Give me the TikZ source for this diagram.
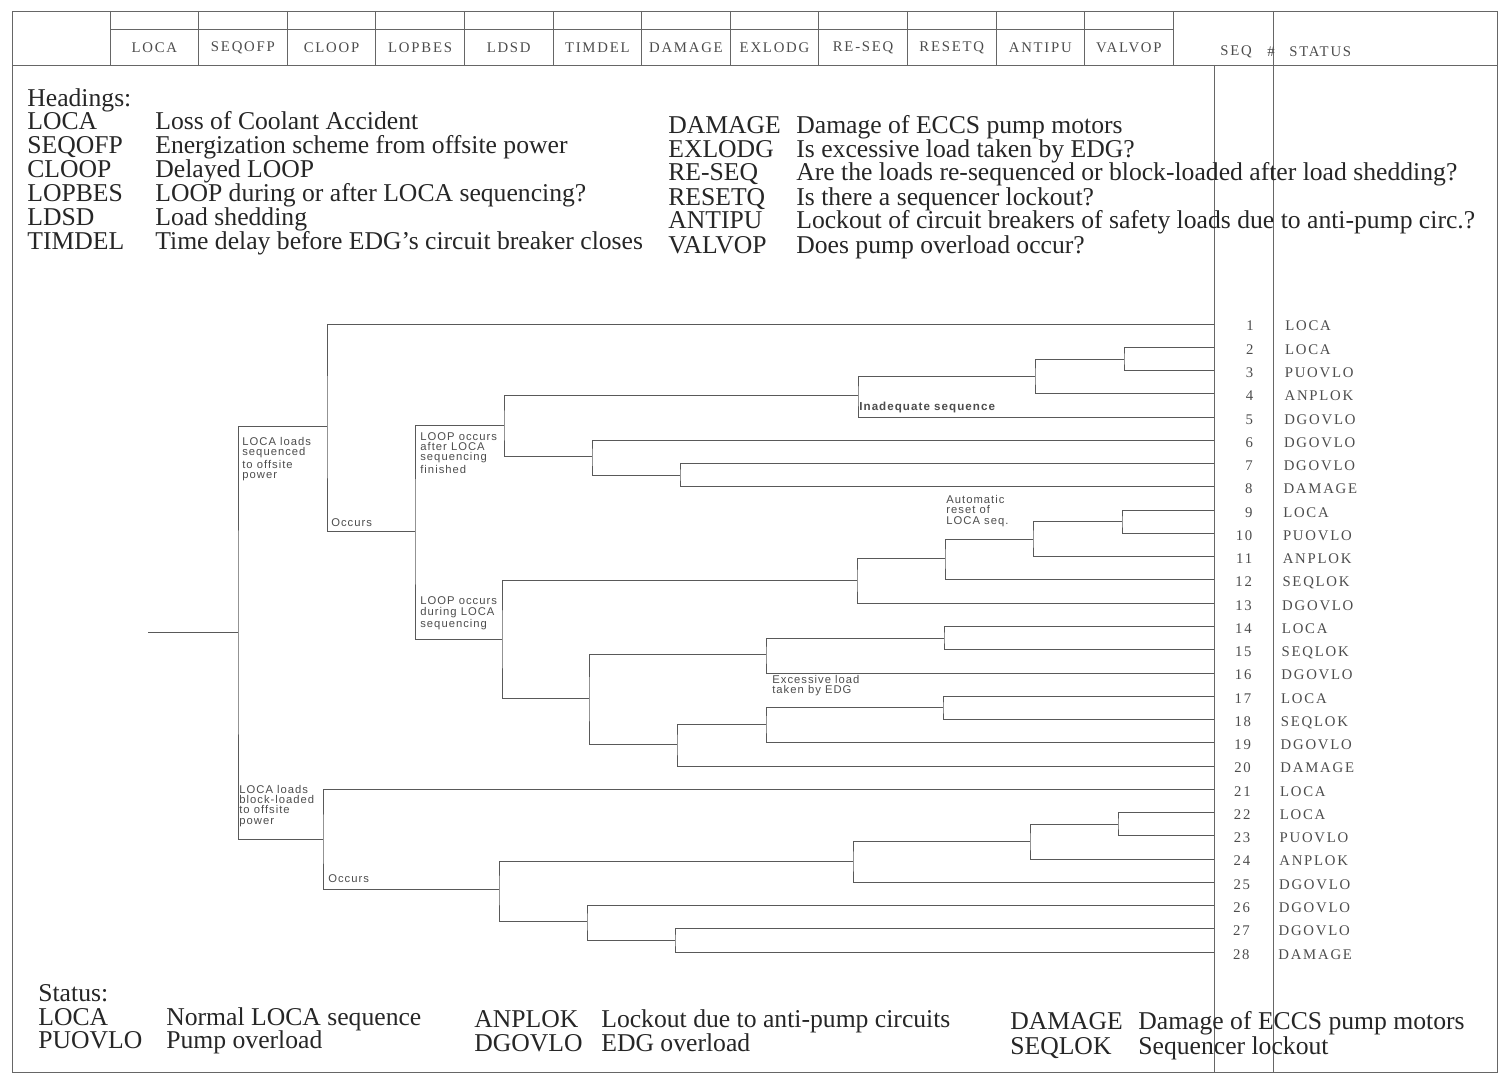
\documentclass[tikz,border=0pt]{standalone}
\usepackage{fontspec}
\setmainfont{Liberation Serif}
\setsansfont{Liberation Sans}
\newfontfamily\codefont[LetterSpace=12]{Liberation Serif}
\newfontfamily\notefont[LetterSpace=9]{Liberation Sans}
\usetikzlibrary{calc}
\tikzstyle{branch}=[line width=0.45pt, black!65]
\tikzstyle{rule}=[line width=0.55pt, black!60]
\tikzstyle{col}=[font=\codefont\fontsize{8.4}{9}\selectfont, inner sep=0pt, text=black!70]
\tikzstyle{note}=[font=\notefont\fontsize{6.4}{5.9}\selectfont, inner sep=0pt, align=left, text=black!70]
\tikzstyle{legend}=[font=\fontsize{14.6}{15}\selectfont, inner sep=0pt, anchor=base west, text=black!85]

\begin{document}
\begin{tikzpicture}[x=0.02cm, y=-0.02cm]
				\useasboundingbox (0,0) rectangle (1499,1077);

				\draw[rule] (12,11) rectangle (1497,1072);
				\draw[rule] (12,65) -- (1497,65);
				\draw[rule] (110,29) -- (1173,29);
				\foreach \x in {110,198.6,287.2,375.8,464.4,553,641.6,730.2,818.8,907.4,996,1084.6,1173.2}
					\draw[rule] (\x,11) -- (\x,65);
				\draw[rule] (1214,65) -- (1214,1072);
				\draw[rule] (1273,11) -- (1273,1072);

				\foreach \t [count=\i] in {LOCA,SEQOFP,CLOOP,LOPBES,LDSD,TIMDEL,DAMAGE,EXLODG,RE-SEQ,RESETQ,ANTIPU,VALVOP}
					\node[col] (h\i) at ({110+88.6*(\i-0.5)},48) {\t};
				\node[col] (hseq) at (1236,52) {SEQ};
				\node[col] (hnum) at (1271,52) {\#};
				\node[col, anchor=west] (hstat) at (1289,52) {STATUS};

				\node[legend] (heads) at (27,107) {Headings:};
				\foreach \a/\d/\y [count=\i] in {LOCA/{Loss of Coolant Accident}/130,
						SEQOFP/{Energization scheme from offsite power}/154,
						CLOOP/{Delayed LOOP}/178,
						LOPBES/{LOOP during or after LOCA sequencing?}/202,
						LDSD/{Load shedding}/226,
						TIMDEL/{Time delay before EDG's circuit breaker closes}/250} {
					\node[legend] (la\i) at (27,\y) {\a};
					\node[legend] (ld\i) at (155,\y) {\d};
				}
				\foreach \a/\d/\y [count=\i] in {DAMAGE/{Damage of ECCS pump motors}/134,
						EXLODG/{Is excessive load taken by EDG?}/158,
						RE-SEQ/{Are the loads re-sequenced or block-loaded after load shedding?}/181,
						RESETQ/{Is there a sequencer lockout?}/206,
						ANTIPU/{Lockout of circuit breakers of safety loads due to anti-pump circ.?}/229,
						VALVOP/{Does pump overload occur?}/254} {
					\node[legend] (ra\i) at (668,\y) {\a};
					\node[legend] (rd\i) at (796,\y) {\d};
				}

				\foreach \s [count=\k] in {LOCA,LOCA,PUOVLO,ANPLOK,DGOVLO,DGOVLO,DGOVLO,DAMAGE,LOCA,PUOVLO,ANPLOK,SEQLOK,DGOVLO,LOCA,SEQLOK,DGOVLO,LOCA,SEQLOK,DGOVLO,DAMAGE,LOCA,LOCA,PUOVLO,ANPLOK,DGOVLO,DGOVLO,DGOVLO,DAMAGE} {
					\coordinate (r\k) at (1214,{324+23.26*(\k-1)});
					\node[col, anchor=base east] (sn\k) at ({1254-0.15*(\k-1)},{331+23.26*(\k-1)}) {\k};
					\node[col, anchor=base west] (st\k) at ({1285-0.26*(\k-1)},{331+23.26*(\k-1)}) {\s};
				}

				\coordinate (start) at (148,632);
				\coordinate (seqofp) at (238,632);
				\coordinate (cloop1) at (327,426.1);
				\coordinate (cloop2) at (323,838.9);
				\coordinate (lopbes) at (415,531.1);
				\coordinate (ldsd1) at (504,425.2);
				\coordinate (ldsd2) at (502,639.0);
				\coordinate (ldsd3) at (499,889.5);
				\coordinate (timdel1) at (592,456.8);
				\coordinate (timdel2) at (589,698.6);
				\coordinate (timdel3) at (587,921.0);
				\coordinate (damage1) at (680,475.2);
				\coordinate (damage2) at (677,744.6);
				\coordinate (damage3) at (675,940.4);
				\coordinate (exlodg1) at (766,654.5);
				\coordinate (exlodg2) at (766,724.3);
				\coordinate (reseq1) at (858,395.7);
				\coordinate (reseq2) at (857,580.4);
				\coordinate (reseq3) at (853,860.9);
				\coordinate (resetq2) at (945,558.6);
				\coordinate (resetq3) at (944,638.0);
				\coordinate (resetq4) at (943,707.8);
				\coordinate (antipu1) at (1035,376.4);
				\coordinate (antipu2) at (1033,539.2);
				\coordinate (antipu3) at (1030,841.6);
				\coordinate (valvop1) at (1124,358.9);
				\coordinate (valvop2) at (1122,521.7);
				\coordinate (valvop3) at (1118,824.1);

				\draw[branch] (start) -- (seqofp);
				\draw[branch] (cloop1) -| (seqofp) |- (cloop2);
				\draw[branch] (r1) -| (cloop1) |- (lopbes);
				\draw[branch] (ldsd1) -| (lopbes) |- (ldsd2);
				\draw[branch] (reseq1) -| (ldsd1) |- (timdel1);
				\draw[branch] (antipu1) -| (reseq1) |- (r5);
				\draw[branch] (valvop1) -| (antipu1) |- (r4);
				\draw[branch] (r2) -| (valvop1) |- (r3);
				\draw[branch] (r6) -| (timdel1) |- (damage1);
				\draw[branch] (r7) -| (damage1) |- (r8);
				\draw[branch] (reseq2) -| (ldsd2) |- (timdel2);
				\draw[branch] (resetq2) -| (reseq2) |- (r13);
				\draw[branch] (antipu2) -| (resetq2) |- (r12);
				\draw[branch] (valvop2) -| (antipu2) |- (r11);
				\draw[branch] (r9) -| (valvop2) |- (r10);
				\draw[branch] (exlodg1) -| (timdel2) |- (damage2);
				\draw[branch] (resetq3) -| (exlodg1) |- (r16);
				\draw[branch] (r14) -| (resetq3) |- (r15);
				\draw[branch] (exlodg2) -| (damage2) |- (r20);
				\draw[branch] (resetq4) -| (exlodg2) |- (r19);
				\draw[branch] (r17) -| (resetq4) |- (r18);
				\draw[branch] (r21) -| (cloop2) |- (ldsd3);
				\draw[branch] (reseq3) -| (ldsd3) |- (timdel3);
				\draw[branch] (antipu3) -| (reseq3) |- (r25);
				\draw[branch] (valvop3) -| (antipu3) |- (r24);
				\draw[branch] (r22) -| (valvop3) |- (r23);
				\draw[branch] (r26) -| (timdel3) |- (damage3);
				\draw[branch] (r27) -| (damage3) |- (r28);

				\node[note, anchor=north west] (seqnote) at (242,437) {LOCA loads\\sequenced\\to offsite\\power};
				\node[note, anchor=south west] (occ1) at (331,527) {Occurs};
				\node[note, anchor=north west] (after) at (420,432) {LOOP occurs\\after LOCA\\sequencing\\finished};
				\node[note, anchor=south west] (during) at (420,630) {LOOP occurs\\during LOCA\\sequencing};
				\node[note, font=\notefont\bfseries\fontsize{6.6}{6}\selectfont, anchor=south west] (inadeq) at (859,413) {Inadequate sequence};
				\node[note, anchor=south west] (autoreset) at (946,527) {Automatic\\reset of\\LOCA seq.};
				\node[note, anchor=north west] (excess) at (772,675) {Excessive load\\taken by EDG};
				\node[note, anchor=south west] (blocknote) at (239,827) {LOCA loads\\block-loaded\\to offsite\\power};
				\node[note, anchor=south west] (occ2) at (328,883) {Occurs};

				\node[legend] (status) at (38,1001) {Status:};
				\node[legend] (sa1) at (38,1025) {LOCA};
				\node[legend] (sd1) at (166,1025) {Normal LOCA sequence};
				\node[legend] (sa2) at (38,1048) {PUOVLO};
				\node[legend] (sd2) at (166,1048) {Pump overload};
				\node[legend] (sa3) at (474,1027) {ANPLOK};
				\node[legend] (sd3) at (601,1027) {Lockout due to anti-pump circuits};
				\node[legend] (sa4) at (474,1051) {DGOVLO};
				\node[legend] (sd4) at (601,1051) {EDG overload};
				\node[legend] (sa5) at (1010,1030) {DAMAGE};
				\node[legend] (sd5) at (1138,1030) {Damage of ECCS pump motors};
				\node[legend] (sa6) at (1010,1054) {SEQLOK};
				\node[legend] (sd6) at (1138,1054) {Sequencer lockout};
			\end{tikzpicture}
\end{document}
